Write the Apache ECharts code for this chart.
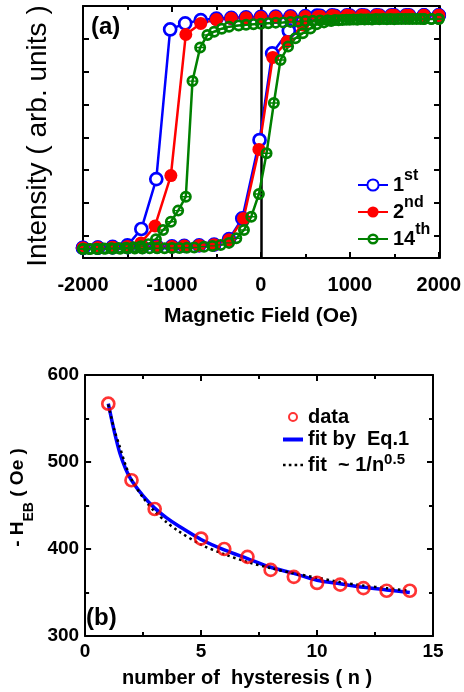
<!DOCTYPE html>
<html>
<head>
<meta charset="utf-8">
<script src="https://cdn.jsdelivr.net/npm/echarts@6/dist/echarts.min.js"></script>
<style>html,body{margin:0;padding:0;background:#fff}#c{width:464px;height:692px}</style>
</head>
<body>
<div id="c"></div>
<script>
// ---------- Panel (a): hysteresis loops, [field (Oe), intensity (fraction of plot height)] ----------
const blue1Down = [[2000,0.963],[1833,0.963],[1667,0.963],[1500,0.963],[1333,0.962],[1167,0.962],[1000,0.962],[833,0.961],[667,0.961],[500,0.96],[333,0.959],[167,0.958],[0,0.957],[-167,0.955],[-333,0.953],[-500,0.95],[-676,0.944],[-851,0.931],[-1020,0.907],[-1176,0.313],[-1344,0.115],[-1500,0.05],[-1667,0.044],[-1833,0.041],[-2000,0.04]];
const blue1Up = [[-2000,0.04],[-1833,0.041],[-1667,0.042],[-1500,0.043],[-1333,0.044],[-1167,0.045],[-1000,0.046],[-862,0.048],[-694,0.05],[-526,0.053],[-358,0.075],[-209,0.157],[-15,0.468],[127,0.812],[314,0.902],[470,0.94],[631,0.962],[800,0.963],[967,0.963],[1133,0.963],[1300,0.963],[1467,0.963],[1633,0.963],[1833,0.963],[2000,0.963]];

const red2Down = [[2000,0.963],[1833,0.963],[1667,0.963],[1500,0.963],[1333,0.962],[1167,0.962],[1000,0.961],[833,0.96],[667,0.959],[500,0.958],[333,0.957],[167,0.956],[0,0.955],[-167,0.953],[-333,0.951],[-500,0.946],[-676,0.931],[-844,0.887],[-1012,0.327],[-1190,0.127],[-1348,0.06],[-1500,0.046],[-1667,0.043],[-1833,0.041],[-2000,0.04]];
const red2Up = [[-2000,0.04],[-1833,0.041],[-1667,0.042],[-1500,0.043],[-1333,0.044],[-1167,0.045],[-1000,0.046],[-862,0.048],[-694,0.05],[-526,0.053],[-358,0.072],[-195,0.157],[-22,0.431],[134,0.796],[295,0.859],[470,0.925],[640,0.958],[800,0.962],[967,0.963],[1133,0.963],[1300,0.963],[1467,0.963],[1633,0.963],[1833,0.963],[2000,0.963]];

const green14Down = [[2000,0.948],[1917,0.948],[1833,0.948],[1750,0.948],[1667,0.948],[1583,0.948],[1500,0.947],[1417,0.947],[1333,0.947],[1250,0.946],[1167,0.946],[1083,0.945],[1000,0.945],[917,0.944],[833,0.944],[750,0.943],[667,0.942],[583,0.941],[500,0.94],[417,0.938],[333,0.937],[250,0.935],[167,0.934],[83,0.932],[0,0.93],[-83,0.928],[-167,0.926],[-250,0.923],[-358,0.918],[-440,0.91],[-526,0.898],[-601,0.885],[-683,0.835],[-769,0.702],[-844,0.243],[-930,0.188],[-1012,0.144],[-1100,0.111],[-1180,0.074],[-1265,0.055],[-1350,0.047],[-1433,0.043],[-1517,0.041],[-1600,0.04],[-1683,0.039],[-1767,0.038],[-1850,0.037],[-1933,0.036],[-2000,0.036]];
const green14Up = [[-2000,0.036],[-1917,0.036],[-1833,0.036],[-1750,0.037],[-1667,0.037],[-1583,0.037],[-1500,0.038],[-1417,0.038],[-1333,0.038],[-1250,0.039],[-1167,0.039],[-1083,0.039],[-1000,0.04],[-917,0.04],[-833,0.041],[-750,0.042],[-639,0.045],[-545,0.048],[-452,0.052],[-358,0.06],[-276,0.078],[-190,0.111],[-108,0.164],[-22,0.254],[64,0.416],[146,0.615],[221,0.786],[306,0.839],[388,0.872],[471,0.892],[557,0.911],[627,0.928],[710,0.935],[790,0.94],[875,0.943],[960,0.945],[1040,0.946],[1125,0.947],[1208,0.947],[1292,0.948],[1375,0.948],[1458,0.948],[1542,0.948],[1625,0.948],[1708,0.948],[1792,0.948],[1833,0.948],[1917,0.948],[2000,0.948]];

// ---------- Panel (b): exchange bias vs number of hysteresis ----------
const nData  = [1, 2, 3, 5, 6, 7, 8, 9, 10, 11, 12, 13, 14];
const hebData = [567, 479, 446, 412, 400, 391, 376, 368, 361, 359, 355, 352, 352];
const nFit = [1, 1.25, 1.5, 1.75, 2, 2.5, 3, 3.5, 4, 5, 6, 7, 8, 9, 10, 11, 12, 13, 14];
const fitEq1 = [567, 536, 510, 492, 479, 461, 447, 436, 427, 411, 399, 389, 379, 372, 364, 360, 356, 353, 350];
const fitSqrt = [566, 538, 517, 496, 480, 459, 443, 431, 421, 405, 394, 385, 378, 372, 367, 362, 358, 355, 352];

const FONT = '"Liberation Sans", Arial, Helvetica, sans-serif';
const BLACK = '#000';
const GREEN_SYMBOL = 'path://M11,0 A11,11 0 1,1 11,22 A11,11 0 1,1 11,0 Z M11,5 A6,6 0 1,0 11,17 A6,6 0 1,0 11,5 Z M5,9.7 L17,9.7 L17,12.3 L5,12.3 Z';

const lineSt = {color: BLACK, width: 2};
const plain = function (v) { return String(v); };

function frameAxis(o) {
  return Object.assign({
    type: 'value',
    axisLine: {show: true, onZero: false, lineStyle: lineSt},
    axisTick: {show: true, inside: true, length: 6, lineStyle: lineSt},
    minorTick: {show: true, splitNumber: 2, length: 4, lineStyle: lineSt},
    axisLabel: {show: false},
    splitLine: {show: false},
    minorSplitLine: {show: false}
  }, o);
}
function tickLabel(size, margin) {
  return {show: true, margin: margin, formatter: plain, color: BLACK, fontSize: size, fontWeight: 'bold', fontFamily: FONT};
}

const chart = echarts.init(document.getElementById('c'), null, {renderer: 'canvas'});
chart.setOption({
  animation: false,
  backgroundColor: '#fff',
  grid: [
    {left: 83, top: 6, width: 357, height: 252},
    {left: 83, top: 6, width: 357, height: 252},
    {left: 78, top: 375, width: 355, height: 261}
  ],
  xAxis: [
    frameAxis({gridIndex: 0, position: 'bottom', min: -2000, max: 2000, interval: 1000,
      axisLabel: tickLabel(20, 17),
      name: 'Magnetic Field (Oe)', nameLocation: 'middle', nameGap: 48,
      nameTextStyle: {color: BLACK, fontSize: 21, fontWeight: 'bold', fontFamily: FONT}}),
    frameAxis({gridIndex: 0, position: 'top', min: -2000, max: 2000, interval: 1000}),
    {gridIndex: 1, type: 'value', show: false, min: 0, max: 1},
    frameAxis({gridIndex: 2, position: 'bottom', min: 0, max: 15, interval: 5,
      axisLabel: tickLabel(19, 6),
      name: 'number of  hysteresis ( n )', nameLocation: 'middle', nameGap: 32,
      nameTextStyle: {color: BLACK, fontSize: 20, fontWeight: 'bold', fontFamily: FONT, padding: [0, 24, 0, 0]}}),
    frameAxis({gridIndex: 2, position: 'top', min: 0, max: 15, interval: 5})
  ],
  yAxis: [
    {gridIndex: 0, type: 'value', show: false, min: 0, max: 1},
    frameAxis({gridIndex: 1, position: 'left', inverse: true, min: 0, max: 7.676, interval: 1,
      minorTick: {show: false},
      name: 'Intensity ( arb. units )', nameLocation: 'middle', nameGap: 31,
      nameTextStyle: {color: BLACK, fontSize: 28, fontFamily: FONT, padding: [0, 8, 0, 0]}}),
    frameAxis({gridIndex: 1, position: 'right', inverse: true, min: 0, max: 7.676, interval: 1,
      minorTick: {show: false}}),
    frameAxis({gridIndex: 2, position: 'left', min: 300, max: 600, interval: 100,
      axisLabel: tickLabel(19, 6),
      name: '{a|- H}{b|EB}{a| ( Oe )}', nameLocation: 'middle', nameGap: 43,
      nameTextStyle: {padding: [0, 0, 0, 16], rich: {
        a: {fontSize: 19, fontWeight: 'bold', fontFamily: FONT, color: BLACK, lineHeight: 38},
        b: {fontSize: 14, fontWeight: 'bold', fontFamily: FONT, color: BLACK, lineHeight: 14, verticalAlign: 'bottom'}
      }}}),
    frameAxis({gridIndex: 2, position: 'right', min: 300, max: 600, interval: 100})
  ],
  legend: [
    {
      orient: 'vertical', left: 352, top: 163, itemWidth: 30, itemHeight: 14, itemGap: 0,
      selectedMode: false,
      data: ['1st', '2nd', '14th'],
      formatter: function (name) {
        return {'1st': '{m|1}{s|st}', '2nd': '{m|2}{s|nd}', '14th': '{m|14}{s|th}'}[name];
      },
      textStyle: {rich: {
        m: {fontSize: 20, fontWeight: 'bold', fontFamily: FONT, color: BLACK, lineHeight: 34},
        s: {fontSize: 16, fontWeight: 'bold', fontFamily: FONT, color: BLACK, lineHeight: 16, verticalAlign: 'top'}
      }}
    },
    {
      orient: 'vertical', left: 278, top: 402, itemWidth: 20, itemHeight: 8, itemGap: 2.5,
      selectedMode: false,
      data: [
        {name: 'data', icon: 'circle'},
        {name: 'fit by  Eq.1', icon: 'path://M0,0 L20,0 L20,4 L0,4 Z'},
        {name: 'fit  ~ 1/n0.5', icon: 'path://M0,0h2.6v2.6h-2.6z M5.8,0h2.6v2.6h-2.6z M11.6,0h2.6v2.6h-2.6z M17.4,0h2.6v2.6h-2.6z'}
      ],
      formatter: function (name) {
        return {'data': '{m|data}', 'fit by  Eq.1': '{m|fit by  Eq.1}', 'fit  ~ 1/n0.5': '{m|fit  ~ 1/n}{s|0.5}'}[name];
      },
      textStyle: {rich: {
        m: {fontSize: 20, fontWeight: 'bold', fontFamily: FONT, color: BLACK, lineHeight: 26},
        s: {fontSize: 15, fontWeight: 'bold', fontFamily: FONT, color: BLACK, lineHeight: 15, verticalAlign: 'top'}
      }}
    }
  ],
  graphic: [
    {type: 'text', left: 91, top: 15, style: {text: '(a)', font: 'bold 24px ' + FONT, fill: BLACK}},
    {type: 'text', left: 86, top: 606, style: {text: '(b)', font: 'bold 24px ' + FONT, fill: BLACK}}
  ],
  series: [
    {
      name: '1st', type: 'line', xAxisIndex: 0, yAxisIndex: 0,
      data: blue1Down.concat(blue1Up),
      symbol: 'circle', symbolSize: 12,
      itemStyle: {color: '#ffffff', borderColor: '#0000ff', borderWidth: 2.7},
      lineStyle: {color: '#0000ff', width: 2.5},
      markLine: {
        silent: true, z: 1, symbol: ['none', 'none'], label: {show: false},
        lineStyle: {color: BLACK, width: 2.5, type: 'solid'},
        data: [{xAxis: 0}]
      }
    },
    {
      name: '2nd', type: 'line', xAxisIndex: 0, yAxisIndex: 0,
      data: red2Down.concat(red2Up),
      symbol: 'circle', symbolSize: 13,
      itemStyle: {color: '#ff0000'},
      lineStyle: {color: '#ff0000', width: 2.5}
    },
    {
      name: '14th', type: 'line', xAxisIndex: 0, yAxisIndex: 0,
      data: green14Down.concat(green14Up),
      symbol: GREEN_SYMBOL, symbolSize: 12,
      itemStyle: {color: '#008000'},
      lineStyle: {color: '#008000', width: 2.5}
    },
    {
      name: 'fit by  Eq.1', type: 'line', xAxisIndex: 3, yAxisIndex: 3,
      data: nFit.map(function (n, i) { return [n, fitEq1[i]]; }),
      smooth: 0.3, symbol: 'none', showSymbol: false,
      itemStyle: {color: '#0000ff'},
      lineStyle: {color: '#0000ff', width: 3.5}
    },
    {
      name: 'fit  ~ 1/n0.5', type: 'line', xAxisIndex: 3, yAxisIndex: 3,
      data: nFit.map(function (n, i) { return [n, fitSqrt[i]]; }),
      smooth: 0.3, symbol: 'none', showSymbol: false,
      itemStyle: {color: BLACK},
      lineStyle: {color: BLACK, width: 2.5, type: [2.5, 3.5]}
    },
    {
      name: 'data', type: 'scatter', xAxisIndex: 3, yAxisIndex: 3, z: 4,
      data: nData.map(function (n, i) { return [n, hebData[i]]; }),
      symbol: 'circle', symbolSize: 12,
      itemStyle: {color: 'transparent', borderColor: '#ff0000', borderWidth: 2.7}
    }
  ]
});
</script>
</body>
</html>
